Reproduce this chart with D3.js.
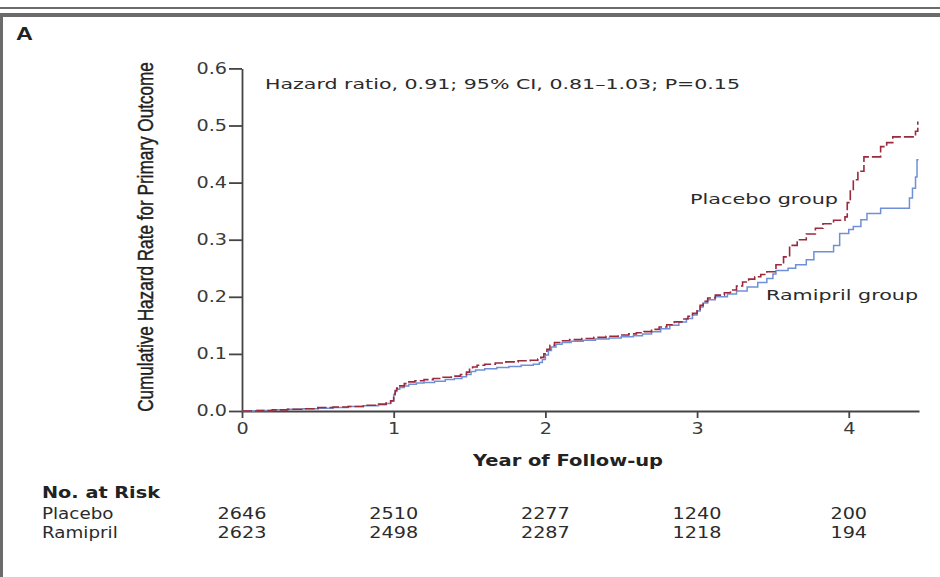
<!DOCTYPE html>
<html><head><meta charset="utf-8">
<script src="https://cdn.jsdelivr.net/npm/d3@7"></script>
<style>body{margin:0;background:#fff}svg{display:block}</style>
</head><body>
<script>
// ---- data ----
const yearTicks = [0, 1, 2, 3, 4];
const hazardTicks = [0, 0.1, 0.2, 0.3, 0.4, 0.5, 0.6];
const placeboT = [0,0.1,0.2,0.3,0.4,0.5,0.6,0.7,0.8,0.9,0.95,0.98,1.0,1.01,1.02,1.04,1.07,1.10,1.14,1.2,1.26,1.32,1.38,1.44,1.48,1.50,1.52,1.55,1.6,1.67,1.74,1.82,1.9,1.95,1.97,1.99,2.01,2.03,2.06,2.10,2.16,2.24,2.32,2.40,2.48,2.55,2.6,2.65,2.70,2.75,2.8,2.85,2.9,2.94,2.97,3.0,3.02,3.04,3.07,3.12,3.18,3.22,3.26,3.30,3.34,3.38,3.42,3.46,3.52,3.57,3.61,3.66,3.72,3.78,3.83,3.9,3.975,3.99,4.01,4.03,4.06,4.10,4.18,4.21,4.25,4.29,4.44,4.455];
const placeboV = [0,0.001,0.002,0.003,0.004,0.006,0.007,0.008,0.010,0.012,0.014,0.018,0.030,0.036,0.040,0.044,0.048,0.051,0.053,0.055,0.057,0.059,0.061,0.064,0.068,0.073,0.077,0.080,0.082,0.084,0.086,0.088,0.089,0.091,0.094,0.100,0.108,0.115,0.120,0.123,0.125,0.127,0.129,0.131,0.133,0.135,0.137,0.139,0.143,0.147,0.151,0.156,0.161,0.166,0.171,0.178,0.185,0.192,0.198,0.203,0.207,0.212,0.219,0.226,0.231,0.235,0.239,0.244,0.256,0.270,0.290,0.300,0.310,0.320,0.328,0.334,0.340,0.365,0.385,0.405,0.420,0.445,0.445,0.463,0.470,0.480,0.490,0.507];
const ramiprilT = [0,0.1,0.2,0.3,0.4,0.5,0.6,0.7,0.8,0.9,0.95,0.98,1.0,1.01,1.02,1.04,1.07,1.10,1.15,1.2,1.27,1.34,1.40,1.45,1.48,1.51,1.54,1.6,1.68,1.76,1.84,1.92,1.96,1.98,2.00,2.02,2.04,2.07,2.11,2.17,2.25,2.33,2.42,2.5,2.58,2.64,2.70,2.76,2.82,2.88,2.93,2.97,3.0,3.02,3.04,3.07,3.12,3.2,3.26,3.33,3.40,3.46,3.5,3.52,3.6,3.65,3.72,3.77,3.87,3.9,3.94,4.0,4.03,4.08,4.12,4.21,4.40,4.42,4.44,4.45,4.46];
const ramiprilV = [0,0.001,0.002,0.003,0.004,0.005,0.006,0.008,0.009,0.011,0.013,0.017,0.028,0.034,0.038,0.041,0.044,0.047,0.049,0.050,0.052,0.055,0.057,0.060,0.064,0.069,0.072,0.074,0.076,0.078,0.080,0.082,0.085,0.090,0.098,0.106,0.112,0.117,0.120,0.122,0.124,0.126,0.128,0.130,0.132,0.135,0.139,0.144,0.150,0.156,0.162,0.168,0.175,0.182,0.189,0.195,0.200,0.205,0.210,0.217,0.225,0.232,0.240,0.246,0.250,0.256,0.265,0.279,0.279,0.290,0.311,0.318,0.323,0.335,0.346,0.355,0.373,0.390,0.410,0.440,0.440];
const riskGroups = ["Placebo", "Ramipril"];
const riskPlacebo = [2646, 2510, 2277, 1240, 200];
const riskRamipril = [2623, 2498, 2287, 1218, 194];

// ---- setup ----
const W = 940, H = 577;
const svg = d3.select("body").append("svg").attr("width", W).attr("height", H);
const FONT = "'DejaVu Sans', 'Open Sans', sans-serif";
const TXT = "#2b2b2b";
const STR = 1.28;
function stretch(sel, k) {
  sel.each(function () {
    const L = this.getComputedTextLength();
    d3.select(this).attr("textLength", L * k).attr("lengthAdjust", "spacingAndGlyphs");
  });
}
function fit(sel, w) { sel.attr("textLength", w).attr("lengthAdjust", "spacingAndGlyphs"); }

// frame
svg.append("rect").attr("x", 0).attr("y", 7).attr("width", W).attr("height", 2).attr("fill", "#6b6b6b");
svg.append("rect").attr("x", 0).attr("y", 13).attr("width", W).attr("height", 4).attr("fill", "#6b6b6b");
svg.append("rect").attr("x", 0).attr("y", 13).attr("width", 3).attr("height", H - 13).attr("fill", "#6b6b6b");

svg.append("text").attr("x", 16).attr("y", 40).text("A")
  .attr("font-family", "'Liberation Sans', Arial, sans-serif").attr("font-weight", "bold")
  .attr("font-size", 18).attr("fill", "#222").call(stretch, 1.3);

const x = d3.scaleLinear().domain([0, 4.463]).range([242, 919]);
const y = d3.scaleLinear().domain([0, 0.6]).range([411, 68.4]);

// axes
const gy = svg.append("g").attr("transform", `translate(${x(0)},0)`)
  .call(d3.axisLeft(y).tickValues(hazardTicks).tickSize(13).tickSizeOuter(0).tickPadding(2).tickFormat(d3.format(".1f")));
const gx = svg.append("g").attr("transform", `translate(0,${y(0)})`)
  .call(d3.axisBottom(x).tickValues(yearTicks).tickSize(7).tickSizeOuter(0).tickPadding(5).tickFormat(d3.format("d")));
[gx, gy].forEach(g => {
  g.select(".domain").attr("stroke", "#444").attr("stroke-width", 1.8);
  g.selectAll(".tick line").attr("stroke", "#444").attr("stroke-width", 1.8);
  g.selectAll(".tick text").attr("font-family", FONT).attr("font-size", 15).attr("fill", "#3a3a3a").call(stretch, STR);
});

// curves
const line = d3.line().x(d => x(d[0])).y(d => y(d[1])).curve(d3.curveStepAfter);
const ramData = ramiprilT.map((t, i) => [t, ramiprilV[i]]);
const plaData = placeboT.map((t, i) => [t, placeboV[i]]);
svg.append("path").attr("d", line(ramData)).attr("fill", "none").attr("stroke", "#6f90d8").attr("stroke-width", 1.5);
svg.append("path").attr("d", line(plaData)).attr("fill", "none").attr("stroke", "#9b2a3c").attr("stroke-width", 1.6)
  .attr("stroke-dasharray", "10,3");

// y title (scaled along its length by a transform, so its box stays true)
const yt = svg.append("text").attr("text-anchor", "middle")
  .attr("font-family", "'Liberation Sans', Arial, sans-serif").attr("font-size", 21.5).attr("fill", "#1e1e1e")
  .attr("stroke", "#1e1e1e").attr("stroke-width", 0.45)
  .text("Cumulative Hazard Rate for Primary Outcome");
const ytLen = yt.node().getComputedTextLength();
yt.attr("transform", `translate(153,237) rotate(-90) scale(${350 / ytLen},1)`);

// x title
svg.append("text").attr("x", 568).attr("y", 466).attr("text-anchor", "middle")
  .attr("font-family", FONT).attr("font-weight", "bold").attr("font-size", 16).attr("fill", "#222")
  .text("Year of Follow-up").call(fit, 190);

// annotations
svg.append("text").attr("x", 265).attr("y", 89).attr("font-family", FONT).attr("font-size", 14.5).attr("fill", TXT)
  .text("Hazard ratio, 0.91; 95% CI, 0.81\u20131.03; P=0.15").call(fit, 475);
svg.append("text").attr("x", 690).attr("y", 204).attr("font-family", FONT).attr("font-size", 14.5).attr("fill", TXT)
  .text("Placebo group").call(fit, 148);
svg.append("text").attr("x", 766).attr("y", 300).attr("font-family", FONT).attr("font-size", 14.5).attr("fill", TXT)
  .text("Ramipril group").call(fit, 152);

// risk table
svg.append("text").attr("x", 42).attr("y", 498).attr("font-family", FONT).attr("font-weight", "bold")
  .attr("font-size", 15).attr("fill", "#222").text("No. at Risk").call(fit, 118);
const rows = [riskPlacebo, riskRamipril];
const rowY = [519, 538];
riskGroups.forEach((g, i) => {
  svg.append("text").attr("x", 42).attr("y", rowY[i]).attr("font-family", FONT).attr("font-size", 15)
    .attr("fill", TXT).text(g).call(stretch, 1.22);
  svg.selectAll(null).data(rows[i]).enter().append("text")
    .attr("x", (d, j) => x(yearTicks[j])).attr("y", rowY[i]).attr("text-anchor", "middle")
    .attr("font-family", FONT).attr("font-size", 15).attr("fill", TXT).text(d => d).call(stretch, STR);
});
</script>
</body></html>
